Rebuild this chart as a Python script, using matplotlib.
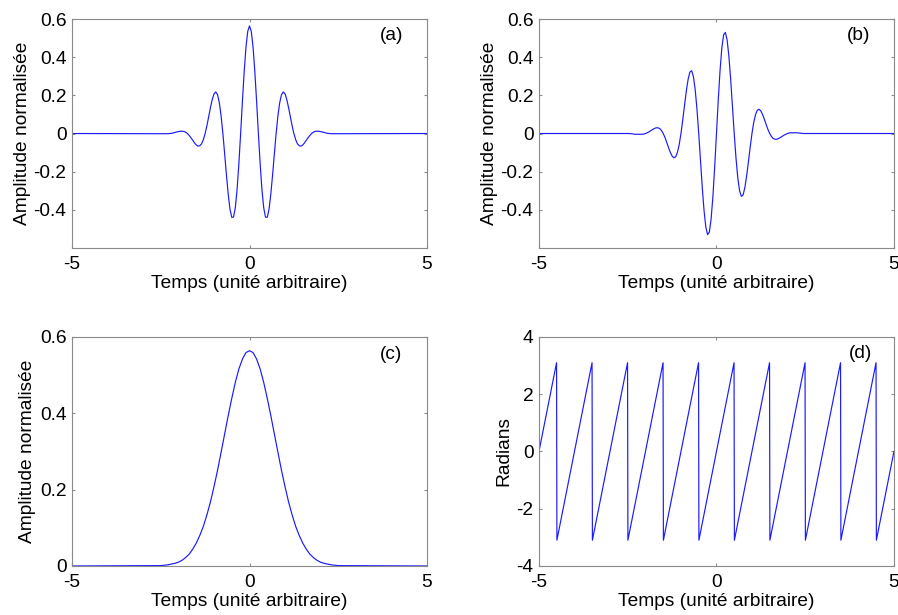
import numpy as np
import matplotlib
matplotlib.use('Agg')
import matplotlib.pyplot as plt

plt.rcParams['font.family'] = ['Liberation Sans', 'DejaVu Sans']

# time samples (unité arbitraire); signal is ~0 outside [-2.5, 2.5]
t_fine = np.r_[-5, np.linspace(-2.5, 2.5, 101), 5]
t_env = np.r_[-5, np.linspace(-2.5, 2.5, 51), 5]

real_part = [0,
    -0.001, -0.001, -0.001, -0.001, -0.001, 0.000, 0.001, 0.003, 0.006, 0.008,
    0.010, 0.012, 0.012, 0.011, 0.007, 0.000, -0.010, -0.022, -0.035, -0.049,
    -0.060, -0.066, -0.064, -0.054, -0.032, 0.000, 0.041, 0.088, 0.136, 0.178,
    0.208, 0.218, 0.203, 0.161, 0.092, 0.000, -0.107, -0.217, -0.318, -0.397,
    -0.439, -0.438, -0.389, -0.293, -0.159, 0.000, 0.168, 0.324, 0.452, 0.535,
    0.564,
    0.535, 0.452, 0.324, 0.168, 0.000, -0.159, -0.293, -0.389, -0.438, -0.439,
    -0.397, -0.318, -0.217, -0.107, 0.000, 0.092, 0.161, 0.203, 0.218, 0.208,
    0.178, 0.136, 0.088, 0.041, 0.000, -0.032, -0.054, -0.064, -0.066, -0.060,
    -0.049, -0.035, -0.022, -0.010, 0.000, 0.007, 0.011, 0.012, 0.012, 0.010,
    0.008, 0.006, 0.003, 0.001, 0.000, -0.001, -0.001, -0.001, -0.001, -0.001,
    0]

# (b) imaginary part (step 0.05)
imag_part = [0,
    0.000, 0.000, -0.001, -0.002, -0.004, -0.004, -0.004, -0.004, -0.004, -0.003,
    0.000, 0.004, 0.009, 0.015, 0.021, 0.026, 0.030, 0.030, 0.026, 0.016,
    0.000, -0.021, -0.047, -0.074, -0.099, -0.118, -0.127, -0.122, -0.099, -0.058,
    0.000, 0.071, 0.148, 0.222, 0.283, 0.322, 0.329, 0.299, 0.231, 0.129,
    0.000, -0.142, -0.283, -0.404, -0.490, -0.530, -0.516, -0.446, -0.328, -0.174,
    0.000,
    0.174, 0.328, 0.446, 0.516, 0.530, 0.490, 0.404, 0.283, 0.142, 0.000,
    -0.129, -0.231, -0.299, -0.329, -0.322, -0.283, -0.222, -0.148, -0.071, 0.000,
    0.058, 0.099, 0.122, 0.127, 0.118, 0.099, 0.074, 0.047, 0.021, 0.000,
    -0.016, -0.026, -0.030, -0.030, -0.026, -0.021, -0.015, -0.009, -0.004, 0.000,
    0.003, 0.004, 0.004, 0.004, 0.004, 0.003, 0.002, 0.001, 0.000, 0.000,
    0]

# (c) modulus (step 0.1)
modulus = [0,
    0.001, 0.002, 0.003, 0.005, 0.007, 0.010, 0.015, 0.022, 0.031, 0.044,
    0.060, 0.080, 0.104, 0.134, 0.168, 0.208, 0.251, 0.298, 0.346, 0.394,
    0.439, 0.481, 0.516, 0.542, 0.559,
    0.564,
    0.559, 0.542, 0.516, 0.481, 0.439, 0.394, 0.346, 0.298, 0.251, 0.208,
    0.168, 0.134, 0.104, 0.080, 0.060, 0.044, 0.031, 0.022, 0.015, 0.010,
    0.007, 0.005, 0.003, 0.002, 0.001,
    0]

# (d) phase: corners of the wrapped sawtooth
phase_t = [-5, -4.505, -4.495, -3.505, -3.495, -2.505, -2.495, -1.505, -1.495,
           -0.505, -0.495, 0.495, 0.505, 1.495, 1.505, 2.495, 2.505,
           3.495, 3.505, 4.495, 4.505, 5]
phase_val = [0, 3.1, -3.1, 3.1, -3.1, 3.1, -3.1, 3.1, -3.1, 3.1, -3.1,
             3.1, -3.1, 3.1, -3.1, 3.1, -3.1, 3.1, -3.1, 3.1, -3.1, 0]

fs = 13.8
frame = '#8a8a8a'
line_col = '#1a1aff'

fig = plt.figure(figsize=(8.98, 6.15), dpi=100)
w, h = 0.3953, 0.3724
ax_a = fig.add_axes([0.0802, 0.5967, w, h])
ax_b = fig.add_axes([0.6002, 0.5967, w, h])
ax_c = fig.add_axes([0.0802, 0.0797, w, h])
ax_d = fig.add_axes([0.6002, 0.0797, w, h])

ax_a.plot(t_fine, real_part, color=line_col, lw=0.85)
ax_b.plot(t_fine, imag_part, color=line_col, lw=0.85)
ax_c.plot(t_env, modulus, color=line_col, lw=0.85)
ax_d.plot(phase_t, phase_val, color=line_col, lw=0.85)

amp_ticks = [-0.4, -0.2, 0, 0.2, 0.4, 0.6]
amp_labels = ['-0.4', '-0.2', '0', '0.2', '0.4', '0.6']
for ax in (ax_a, ax_b):
    ax.set_ylim(-0.6, 0.6)
    ax.set_yticks(amp_ticks)
    ax.set_yticklabels(amp_labels)
    ax.set_ylabel('Amplitude normalisée', fontsize=fs, labelpad=2)
ax_c.set_ylim(0, 0.6)
ax_c.set_yticks([0, 0.2, 0.4, 0.6])
ax_c.set_yticklabels(['0', '0.2', '0.4', '0.6'])
ax_c.set_ylabel('Amplitude normalisée', fontsize=fs, labelpad=3)
ax_d.set_ylim(-4, 4)
ax_d.set_yticks([-4, -2, 0, 2, 4])
ax_d.set_yticklabels(['-4', '-2', '0', '2', '4'])
ax_d.set_ylabel('Radians', fontsize=fs, labelpad=3)

for ax in (ax_a, ax_b, ax_c, ax_d):
    ax.set_xlim(-5, 5)
    ax.set_xticks([-5, 0, 5])
    ax.set_xticklabels(['-5', '0', '5'])
    ax.set_xlabel('Temps (unité arbitraire)', fontsize=fs, labelpad=1)
    ax.tick_params(direction='in', length=2.5, width=0.8, color=frame,
                   labelsize=fs, top=True, right=True, pad=4)
    ax.tick_params(axis='x', pad=6)
    for s in ax.spines.values():
        s.set_color(frame)
        s.set_linewidth(0.8)

ax_a.text(3.68, 0.515, '(a)', fontsize=fs, va='center')
ax_b.text(3.68, 0.515, '(b)', fontsize=fs, va='center')
ax_c.text(3.68, 0.555, '(c)', fontsize=fs, va='center')
ax_d.text(3.72, 3.41, '(d)', fontsize=fs, va='center')

fig.savefig('out.png', dpi=100)
